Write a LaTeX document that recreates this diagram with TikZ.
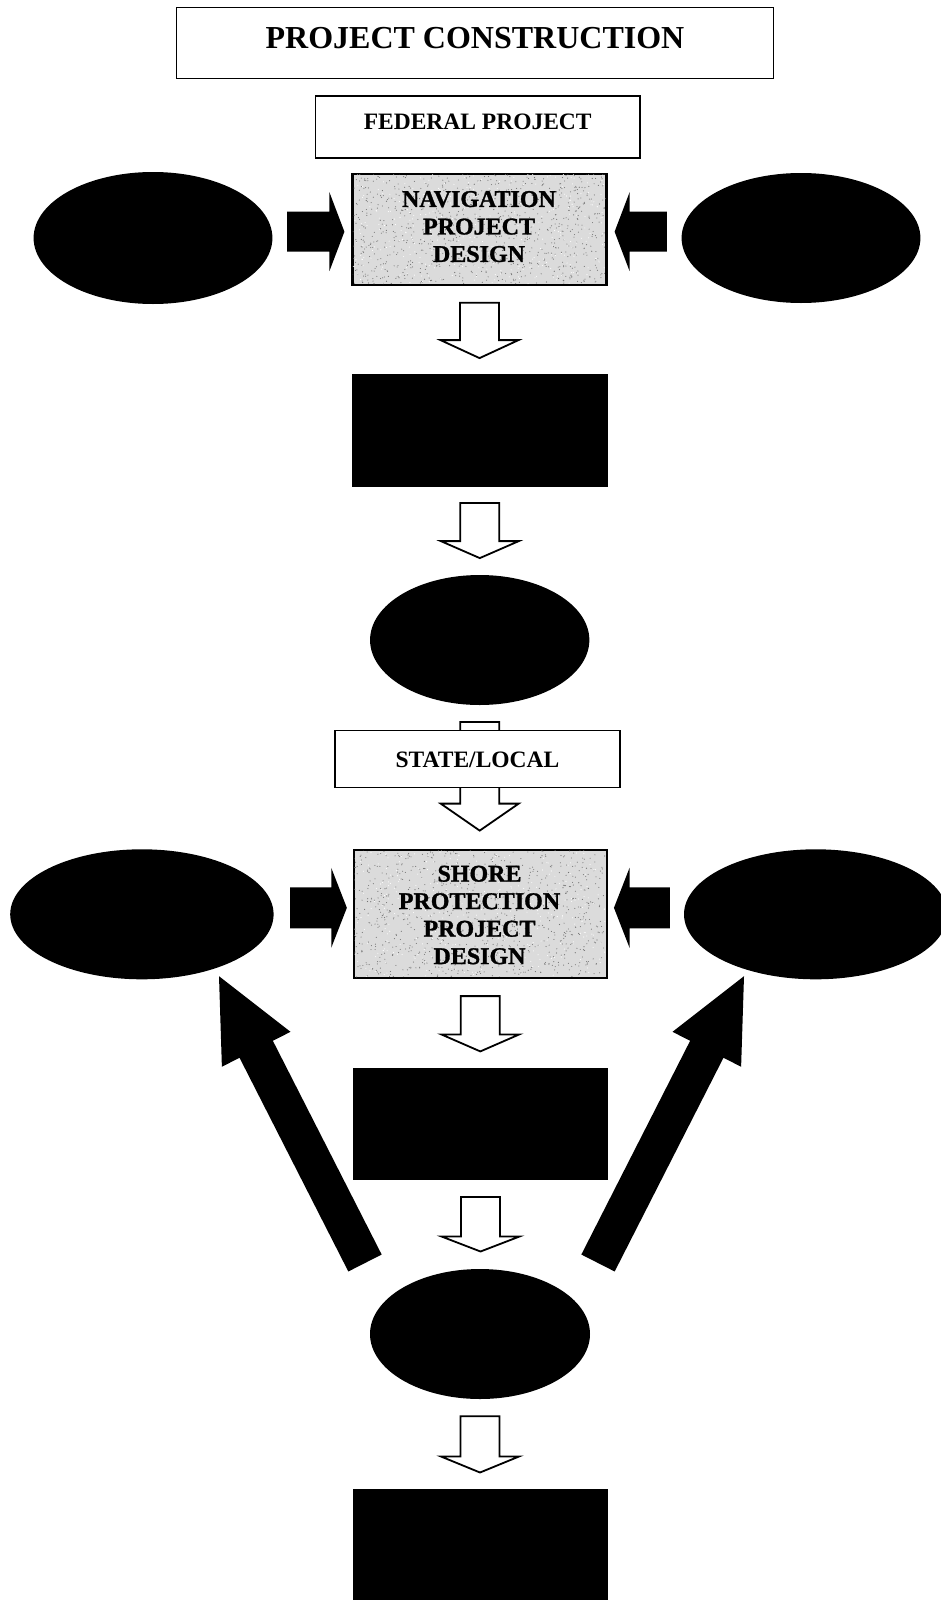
\documentclass[tikz,border=0pt]{standalone}
\usepackage{fontspec}
\setmainfont{Liberation Serif}
\newfontfamily\heavyserif[FakeBold=1.2]{Liberation Serif Bold}
\usetikzlibrary{shapes.geometric,calc}

% Block arrow as a closed polygon:
% #1 path style, #2 tail, #3 tip, #4 shaft half width, #5 head half width, #6 head length
\newcommand\blockarrow[6][fill=black]{%
  \coordinate (ba-h) at ($(#3)!#6!(#2)$);
  \path[#1] ($(#2)!#4!90:(#3)$) -- ($(ba-h)!#4!90:(#3)$) -- ($(ba-h)!#5!90:(#3)$)
    -- (#3) -- ($(ba-h)!#5!-90:(#3)$) -- ($(ba-h)!#4!-90:(#3)$) -- ($(#2)!#4!-90:(#3)$) -- cycle;}

% Speckled texture inside a grey box: #1 node name, #2 width, #3 height
\newcommand\speckle[3]{%
  \begin{scope}
    \clip ($(#1.north west)+(1.5,1.5)$) rectangle ($(#1.south east)+(-1.5,-1.5)$);
    \foreach \i in {1,...,900}
      \fill[black!55] ($(#1.north west)+({#2*rnd},{#3*rnd})$) circle (0.55pt);
    \foreach \i in {1,...,350}
      \fill[white] ($(#1.north west)+({#2*rnd},{#3*rnd})$) circle (0.55pt);
  \end{scope}}

\tikzset{
  plainbox/.style={draw, line width=1.4pt, fill=white, inner sep=0pt},
  graybox/.style={draw, line width=2.2pt, fill=black!14, inner sep=0pt},
  blackbox/.style={fill=black, inner sep=0pt},
  blob/.style={ellipse, fill=black, inner sep=0pt},
  lbl/.style={font=\fontsize{24}{27.5}\heavyserif, align=center, inner sep=0pt},
  hollow/.style={fill=white, draw=black, line width=1.8pt, line join=miter},
  solidarrow/.style={fill=black},
}

\begin{document}
\begin{tikzpicture}[x=1pt,y=-1pt]
\useasboundingbox (0,0) rectangle (941,1600);
\pgfmathsetseed{12}

% ---------- header ----------
\node[plainbox, minimum width=597pt, minimum height=71.5pt,
      font=\fontsize{32}{38}\selectfont\bfseries, text height=21.2pt, text depth=10.4pt]
      (title) at (475,43) {PROJECT CONSTRUCTION};
\node[plainbox, minimum width=324.6pt, minimum height=62.3pt,
      font=\fontsize{23.5}{27.5}\selectfont\bfseries, text height=15.6pt, text depth=10pt]
      (federal) at (477.7,127) {FEDERAL PROJECT};

% ---------- federal: navigation project ----------
\node[graybox, minimum width=254pt, minimum height=111pt] (nav) at (479.5,229.5) {};
\speckle{nav}{254}{111}
\node[lbl] (navtext) at (479,226.6) {NAVIGATION\\PROJECT\\DESIGN};

\node[blob, minimum width=238.8pt, minimum height=132pt] (navL) at (153,238) {};
\node[blob, minimum width=238.8pt, minimum height=130pt] (navR) at (801,238) {};

\coordinate (a1s) at ($(navL.east)+(14.5,-6.3)$);
\coordinate (a1e) at ($(nav.west)+(-7,2.2)$);
\blockarrow[solidarrow]{a1s}{a1e}{20pt}{39.5pt}{15pt}
\coordinate (a2s) at ($(navR.west)+(-14.6,-6.3)$);
\coordinate (a2e) at ($(nav.east)+(7,2.2)$);
\blockarrow[solidarrow]{a2s}{a2e}{20pt}{39.5pt}{15pt}

\node[blackbox, minimum width=255.5pt, minimum height=112.4pt] (rect1) at (479.8,430.5) {};
\coordinate (hA1) at ($(nav.south)+(0,16.7)$);
\coordinate (hA2) at ($(rect1.north -| nav.south)+(0,-16)$);
\blockarrow[hollow]{hA1}{hA2}{19.5pt}{39pt}{18pt}

\node[blob, minimum width=219.3pt, minimum height=130pt] (em1) at (479.7,640) {};
\coordinate (hB1) at ($(rect1.south)+(0,16)$);
\coordinate (hB2) at ($(em1.north -| rect1.south)+(0,-16.7)$);
\blockarrow[hollow]{hB1}{hB2}{19.5pt}{39pt}{17pt}

% ---------- state / local: shore protection project ----------
\node[graybox, minimum width=252.7pt, minimum height=128pt] (shore) at (480.3,914) {};
\coordinate (hC1) at ($(em1.south)+(0,16.7)$);
\coordinate (hC2) at ($(shore.north -| em1.south)+(0,-18.3)$);
\blockarrow[hollow]{hC1}{hC2}{19.5pt}{39pt}{27pt}
\node[plainbox, minimum width=285.3pt, minimum height=56.6pt,
      font=\fontsize{23.5}{27.5}\selectfont\bfseries, text height=25.6pt, text depth=8pt]
      (state) at (477.5,759) {STATE/LOCAL};

\speckle{shore}{252.7}{128}
\node[lbl] (shoretext) at (479.5,915) {SHORE\\PROTECTION\\PROJECT\\DESIGN};

\node[blob, minimum width=263.4pt, minimum height=130pt] (shoreL) at (141.9,914.3) {};
\node[blob, minimum width=263.4pt, minimum height=130pt] (shoreR) at (815.7,914.3) {};

\coordinate (a3s) at ($(shoreL.east)+(16.4,-6.5)$);
\coordinate (a3e) at ($(shore.west)+(-6,-6.2)$);
\blockarrow[solidarrow]{a3s}{a3e}{20.5pt}{40pt}{15.6pt}
\coordinate (a4s) at ($(shoreR.west)+(-14,-6.5)$);
\coordinate (a4e) at ($(shore.east)+(6.2,-6.2)$);
\blockarrow[solidarrow]{a4s}{a4e}{20.5pt}{40pt}{15.6pt}

\node[blackbox, minimum width=255.6pt, minimum height=111.7pt] (rect2) at (480.5,1124.15) {};
\coordinate (hD1) at ($(shore.south)+(0,17)$);
\coordinate (hD2) at ($(rect2.north -| shore.south)+(0,-16.7)$);
\blockarrow[hollow]{hD1}{hD2}{19.5pt}{39pt}{17pt}

\node[blob, minimum width=220pt, minimum height=130pt] (e3) at (480,1334) {};
\coordinate (hE1) at ($(rect2.south)+(0,16.7)$);
\coordinate (hE2) at ($(e3.north -| rect2.south)+(0,-17.3)$);
\blockarrow[hollow]{hE1}{hE2}{19.5pt}{39pt}{15pt}

\node[blackbox, minimum width=255.6pt, minimum height=131pt] (rect3) at (480.5,1554.5) {};
\coordinate (hF1) at ($(e3.south)+(0,17)$);
\coordinate (hF2) at ($(rect3.north -| e3.south)+(0,-16.3)$);
\blockarrow[hollow]{hF1}{hF2}{19.5pt}{39pt}{16pt}

% feedback arrows from the lower ellipse to the side ellipses
\coordinate (dLs) at ($(e3.center)+(-115,-71)$);
\coordinate (dLe) at ($(shoreL.south)+(77.1,-3.3)$);
\blockarrow[solidarrow]{dLs}{dLe}{18.7pt}{38.5pt}{82pt}
\coordinate (dRs) at ($(e3.center)+(118,-71)$);
\coordinate (dRe) at ($(shoreR.south)+(-71.7,-3.3)$);
\blockarrow[solidarrow]{dRs}{dRe}{18.7pt}{38.5pt}{82pt}
\end{tikzpicture}
\end{document}
